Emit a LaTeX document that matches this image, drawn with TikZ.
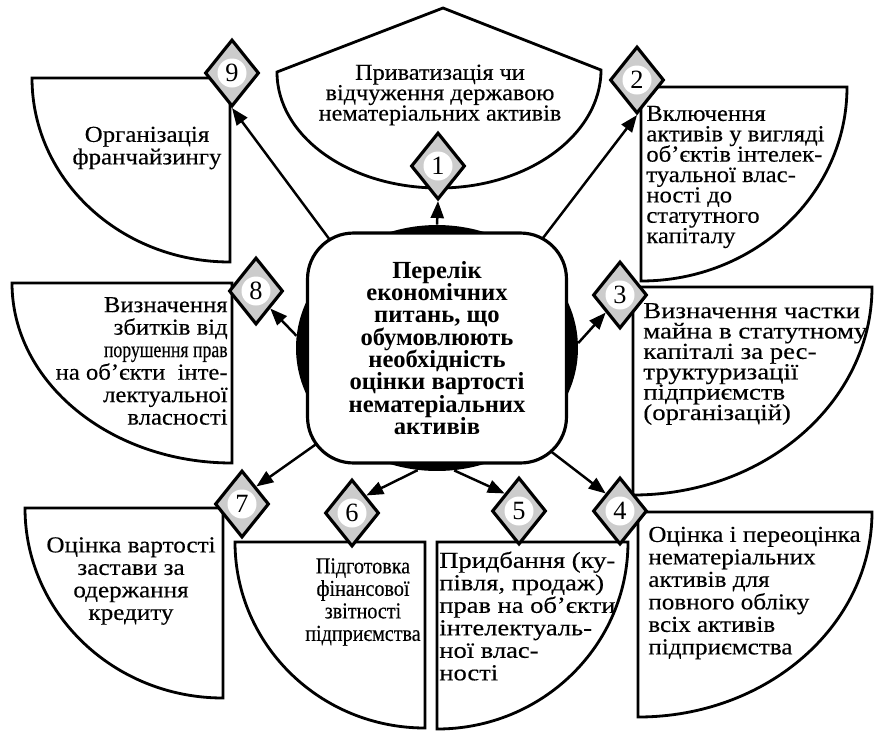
\documentclass[tikz,border=0pt]{standalone}
\usepackage{fontspec}
\setmainfont{Liberation Serif}
\usetikzlibrary{shapes.geometric,arrows.meta,backgrounds}
\newcommand\squeezelines{\lineskiplimit=-100pt\relax}
\tikzset{
  sector/.style={draw, line width=1.6pt, fill=white},
  nummark/.style={diamond, draw, line width=1.8pt, fill=gray!40, inner sep=0pt,
    minimum width=1.08cm, minimum height=1.34cm, font=\fontsize{15}{15}\selectfont,
    path picture={\fill[white] (path picture bounding box.center) circle (0.29cm);}},
  itemtext/.style={inner sep=0pt,
    font={\fontsize{13}{12.8}\selectfont\addfontfeatures{FakeStretch=#1,FakeBold=0.3}\squeezelines}},
  tightitem/.style={inner sep=0pt,
    font={\fontsize{13}{11.6}\selectfont\addfontfeatures{FakeStretch=#1,FakeBold=0.3}\squeezelines}},
  hub/.style={draw, line width=1.8pt, fill=white, rounded corners=0.92cm,
    minimum width=5.18cm, minimum height=4.6cm, align=center,
    font={\fontsize{14}{12.7}\selectfont\bfseries\squeezelines}},
  link/.style={line width=1.4pt, -{Triangle[length=0.34cm,width=0.26cm]}},
}
\begin{document}
\begin{tikzpicture}[x=0.02cm, y=-0.02cm]
\useasboundingbox (0,0) rectangle (875,731);
\draw[sector] (277,72) -- (443,8) -- (601,70) .. controls (601,134.6) and (528.5,188) .. (439,188) .. controls (349.5,188) and (277,136.6) .. cycle;
\draw[sector] (32,78) -- (230,78) -- (230,262) .. controls (120.6,262) and (32,179.6) .. cycle;
\draw[sector] (847,87) -- (641,87) -- (641,281) .. controls (754.8,281) and (847,194.1) .. cycle;
\draw[sector] (12,283) -- (232,283) -- (232,463) .. controls (110.5,463) and (12,382.4) .. cycle;
\draw[sector] (872,287) -- (633,287) -- (633,495) .. controls (765,495) and (872,401.9) .. cycle;
\draw[sector] (25,508) -- (223,508) -- (223,698) .. controls (113.6,698) and (25,612.9) .. cycle;
\draw[sector] (235,542) -- (425,542) -- (425,728) .. controls (320.1,728) and (235,644.7) .. cycle;
\draw[sector] (628,542) -- (437,542) -- (437,729) .. controls (542.5,729) and (628,645.3) .. cycle;
\draw[sector] (872,512) -- (638,512) -- (638,717) .. controls (767.2,717) and (872,625.2) .. cycle;

\node[tightitem=1.06, align=center] (t1) at (440,95) {Приватизація чи\\відчуження державою\\нематеріальних активів};
\node[tightitem=1.08, align=left, anchor=west] (t2) at (646,177) {Включення\\активів у вигляді\\об’єктів інтелек-\\туальної влас-\\ності до\\статутного\\капіталу};
\node[tightitem=1.17, align=left, anchor=west] (t3) at (643,364) {Визначення частки\\майна в статутному\\капіталі за рес-\\труктуризації\\підприємств\\(організацій)};
\node[itemtext=1.1, align=left, anchor=west] (t4) at (648,593) {Оцінка і переоцінка\\нематеріальних\\активів для\\повного обліку\\всіх активів\\підприємства};
\node[itemtext=1.16, align=left, anchor=west] (t5) at (439,616) {Придбання (ку-\\півля, продаж)\\прав на об’єкти\\інтелектуаль-\\ної влас-\\ності};
\node[itemtext=0.88, align=center] (t6) at (363,602) {Підготовка\\фінансової\\звітності\\підприємства};
\node[itemtext=1.1, align=center] (t7) at (131,581) {Оцінка вартості\\застави за\\одержання\\кредиту};
\node[itemtext=1.08, align=right, anchor=east] (t8) at (228,361) {Визначення\\збитків від\\\scalebox{0.72}[1]{порушення прав}\\на об’єкти~ інте-\\лектуальної\\власності};
\node[itemtext=1.09, align=center] (t9) at (147,148) {Організація\\франчайзингу};

\node[ellipse, fill=black, inner sep=0pt, minimum width=5.64cm, minimum height=4.92cm] (halo) at (437,348) {};
\node[hub] (box) at (437,348) {Перелік\\економічних\\питань, що\\обумовлюють\\необхідність\\оцінки вартості\\нематеріальних\\активів};

\node[nummark] (d1) at (438,166) {1};
\node[nummark] (d2) at (637,80) {2};
\node[nummark] (d3) at (620,295) {3};
\node[nummark] (d4) at (620,511) {4};
\node[nummark] (d5) at (519,511) {5};
\node[nummark] (d6) at (352,513) {6};
\node[nummark] (d7) at (242,504) {7};
\node[nummark] (d8) at (256,291) {8};
\node[nummark] (d9) at (232,73) {9};

\begin{scope}[on background layer]
\draw[link] (halo.90) -- (d1.south);
\draw[link] (halo.45) -- (d2.south);
\draw[link] (halo.2) -- (d3.south west);
\draw[link] (halo.317) -- (d4.north west);
\draw[link] (halo.278) -- (d5.north west);
\draw[link] (halo.261) -- (d6.north east);
\draw[link] (halo.219) -- (d7.north east);
\draw[link] (halo.175) -- (d8.south east);
\draw[link] (halo.136) -- (d9.south);
\end{scope}
\end{tikzpicture}
\end{document}
